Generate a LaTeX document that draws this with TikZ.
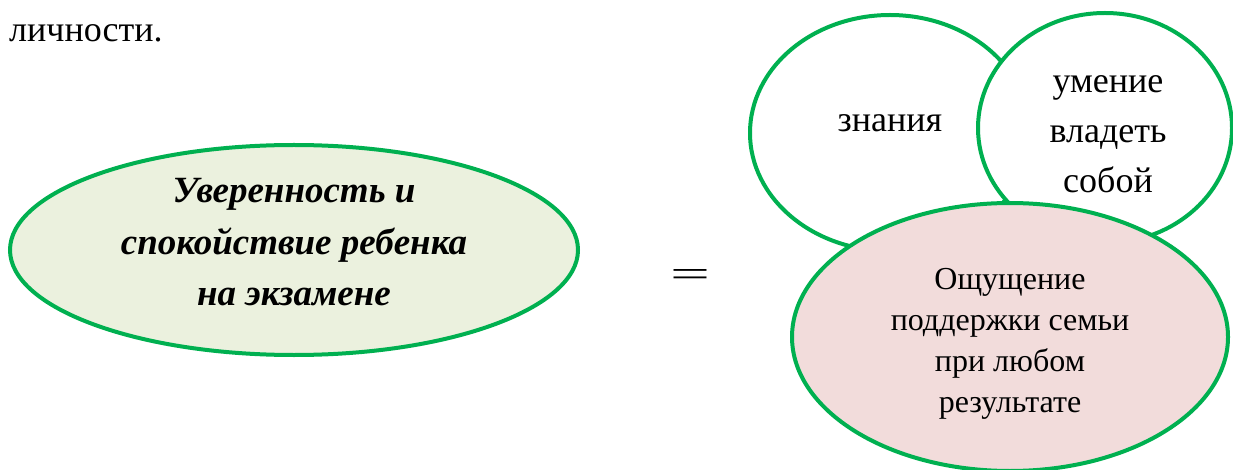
\documentclass[tikz,border=0pt]{standalone}
\usepackage{fontspec}
\setmainfont{Liberation Serif}
\usetikzlibrary{shapes.geometric}
\definecolor{bordergreen}{HTML}{00B050}
\definecolor{lightgreen}{HTML}{EBF1DE}
\definecolor{lightpink}{HTML}{F2DCDB}
\tikzset{
  oval/.style={ellipse, draw=bordergreen, line width=4pt, inner sep=0pt},
  label text/.style={inner sep=0pt, align=center, anchor=base},
}
\begin{document}
\begin{tikzpicture}[x=1pt,y=-1pt]
\useasboundingbox (0,0) rectangle (1233,470);
\node[anchor=base west, inner sep=0pt, font=\fontsize{36}{43}\selectfont] (lich) at (9,42) {личности.};
% left ellipse
\node[oval, fill=lightgreen, minimum width=568pt, minimum height=210pt] (conf) at (294,250) {};
\node[label text, font=\fontsize{37}{51}\selectfont\bfseries\itshape] (conft) at (294,305)
      {Уверенность и\\спокойствие ребенка\\на экзамене};
% equals sign
\node[inner sep=0pt, font=\fontsize{60}{60}\selectfont] (eq) at (690,278) {\scalebox{1.18}[0.62]{=}};
% right group
\node[oval, fill=white, minimum width=280pt, minimum height=236pt] (zn) at (890,133) {};
\node[label text, font=\fontsize{36}{43}\selectfont] (znt) at (890,132) {знания};
\node[oval, fill=white, minimum width=254pt, minimum height=230pt] (um) at (1105,128) {};
\node[label text, font=\fontsize{36}{50}\selectfont] (umt) at (1108,193) {умение\\владеть\\собой};
\node[oval, fill=lightpink, minimum width=436pt, minimum height=268pt] (sup) at (1010,337) {};
\node[label text, font=\fontsize{32}{41}\selectfont] (supt) at (1010,412)
  {Ощущение\\поддержки семьи\\при любом\\результате};
\end{tikzpicture}
\end{document}
